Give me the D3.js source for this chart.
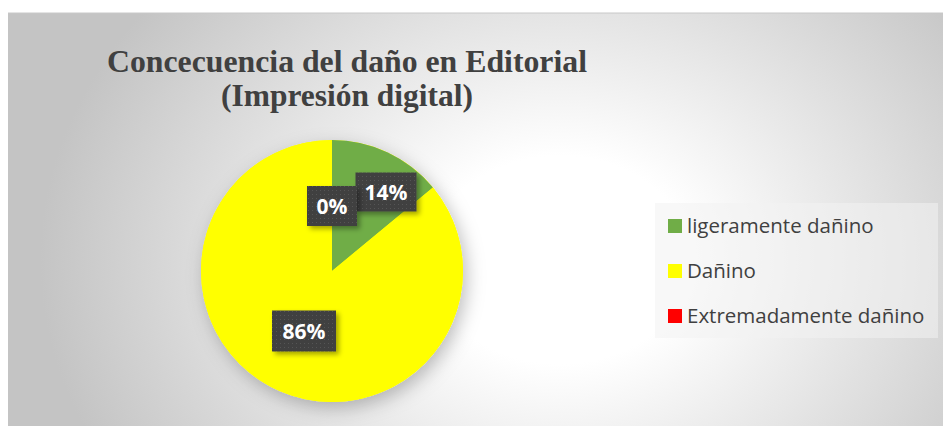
<!DOCTYPE html>
<html>
<head>
<meta charset="utf-8">
<script src="https://cdn.jsdelivr.net/npm/d3@7"></script>
<style>
  body { margin: 0; background: #ffffff; }
</style>
</head>
<body>
<div id="chart"></div>
<script>
const categories = ["ligeramente dañino", "Dañino", "Extremadamente dañino"];
const values = [14, 86, 0];
const labels = ["14%", "86%", "0%"];
const colors = ["#70ad47", "#ffff00", "#ff0000"];
const titleLines = ["Concecuencia del daño en Editorial", "(Impresión digital)"];

const width = 943;
const height = 426;

const svg = d3.select("#chart")
  .append("svg")
  .attr("width", width)
  .attr("height", height);

const defs = svg.append("defs");

// background gradient ---------------------------------------------------------
const bg = defs.append("radialGradient")
  .attr("id", "bg")
  .attr("gradientUnits", "userSpaceOnUse")
  .attr("cx", 560).attr("cy", 260).attr("r", 520)
  .attr("gradientTransform", "translate(560,260) scale(1,0.8) translate(-560,-260)");
bg.append("stop").attr("offset", "0%").attr("stop-color", "#ffffff");
bg.append("stop").attr("offset", "25%").attr("stop-color", "#ffffff");
bg.append("stop").attr("offset", "100%").attr("stop-color", "#c4c4c4");

const shadow = defs.append("filter").attr("id", "shadow")
  .attr("x", "-20%").attr("y", "-20%").attr("width", "160%").attr("height", "160%");
shadow.append("feDropShadow")
  .attr("dx", 3).attr("dy", 3).attr("stdDeviation", 2.5)
  .attr("flood-color", "#000").attr("flood-opacity", 0.35);

const pieShadow = defs.append("filter").attr("id", "pieShadow")
  .attr("x", "-30%").attr("y", "-30%").attr("width", "160%").attr("height", "160%");
pieShadow.append("feDropShadow")
  .attr("dx", 4).attr("dy", 6).attr("stdDeviation", 9)
  .attr("flood-color", "#000").attr("flood-opacity", 0.25);

const dots = defs.append("pattern")
  .attr("id", "dots").attr("patternUnits", "userSpaceOnUse")
  .attr("width", 4).attr("height", 4);
dots.append("rect").attr("width", 4).attr("height", 4).attr("fill", "#404040");
dots.append("rect").attr("width", 1).attr("height", 1).attr("fill", "#555");

svg.append("rect")
  .attr("x", 8).attr("y", 13)
  .attr("width", width - 8).attr("height", height - 13)
  .attr("fill", "url(#bg)");
svg.append("line")
  .attr("x1", 8).attr("x2", width).attr("y1", 13).attr("y2", 13)
  .attr("stroke", "#c8c8c8");

// title -------------------------------------------------------------------------
const titleWidths = [480, 252];
svg.append("g")
  .selectAll("text")
  .data(titleLines)
  .join("text")
  .attr("x", 347)
  .attr("y", (d, i) => 72 + i * 34)
  .attr("text-anchor", "middle")
  .attr("textLength", (d, i) => titleWidths[i])
  .attr("lengthAdjust", "spacingAndGlyphs")
  .style("font-family", "'Liberation Serif', 'Times New Roman', serif")
  .style("font-weight", "bold")
  .style("font-size", "31px")
  .style("fill", "#404040")
  .text(d => d);

// pie -------------------------------------------------------------------------
const cx = 332, cy = 271, radius = 131;
const pie = d3.pie().sort(null).value(d => d.value);
const arcs = pie(categories.map((c, i) => ({ name: c, value: values[i], color: colors[i], label: labels[i] })));
const arc = d3.arc().innerRadius(0).outerRadius(radius);

const pieGroup = svg.append("g")
  .attr("transform", "translate(" + cx + "," + cy + ")");

pieGroup.append("circle")
  .attr("r", radius)
  .attr("fill", "#ffff00")
  .attr("filter", "url(#pieShadow)");

pieGroup.selectAll("path")
  .data(arcs)
  .join("path")
  .attr("d", arc)
  .attr("fill", d => d.data.color);

// data labels -------------------------------------------------------------------
// label positions are nudged like Excel does, so they don't overlap
const labelPos = { "ligeramente dañino": [54, -79], "Dañino": [-28, 60], "Extremadamente dañino": [0, -65] };
const boxSizes = { "ligeramente dañino": [61, 39], "Dañino": [64, 41], "Extremadamente dañino": [50, 40] };

const labelGroup = pieGroup.selectAll("g.label")
  .data(arcs)
  .join("g")
  .attr("class", "label")
  .attr("transform", d => "translate(" + labelPos[d.data.name][0] + "," + labelPos[d.data.name][1] + ")");

labelGroup.append("rect")
  .attr("x", d => -boxSizes[d.data.name][0] / 2)
  .attr("y", d => -boxSizes[d.data.name][1] / 2)
  .attr("width", d => boxSizes[d.data.name][0])
  .attr("height", d => boxSizes[d.data.name][1])
  .attr("fill", "url(#dots)")
  .attr("filter", "url(#shadow)");

labelGroup.append("text")
  .attr("text-anchor", "middle")
  .attr("dy", "0.36em")
  .style("font-family", "'Open Sans', 'Noto Sans', sans-serif")
  .style("font-weight", "bold")
  .style("font-size", "21px")
  .style("fill", "#ffffff")
  .text(d => d.data.label);

// legend ------------------------------------------------------------------------
const legend = svg.append("g")
  .attr("transform", "translate(655,203)");

legend.append("rect")
  .attr("width", 283).attr("height", 135)
  .attr("fill", "#f2f2f2").attr("opacity", 0.55);

const legendY = d3.scalePoint()
  .domain(categories)
  .range([23, 113]);

const items = legend.selectAll("g.item")
  .data(categories)
  .join("g")
  .attr("class", "item")
  .attr("transform", d => "translate(13," + legendY(d) + ")");

items.append("rect")
  .attr("x", 0).attr("y", -7)
  .attr("width", 14).attr("height", 14)
  .attr("fill", (d, i) => colors[i]);

items.append("text")
  .attr("x", 19)
  .attr("dy", "0.35em")
  .style("font-family", "'Open Sans', 'Noto Sans', sans-serif")
  .style("font-size", "20.5px")
  .style("fill", "#404040")
  .text(d => d);
</script>
</body>
</html>
